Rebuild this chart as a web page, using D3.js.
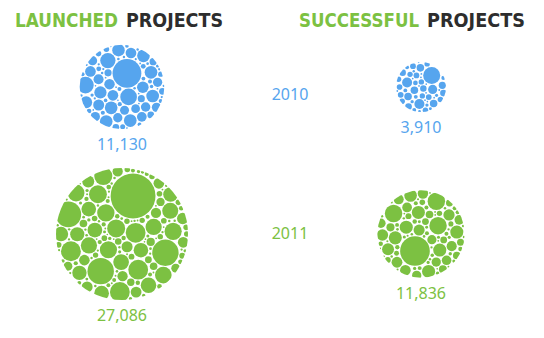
<!DOCTYPE html>
<html>
<head>
<meta charset="utf-8">
<script src="https://cdn.jsdelivr.net/npm/d3@7"></script>
<style>
  body { margin: 0; background: #fff; }
  svg { display: block; }
</style>
</head>
<body>
<div id="chart"></div>
<script>
// the numbers
var years = ["2010", "2011"];
var groups = ["launched", "successful"];
var launched = [11130, 27086];
var successful = [3910, 11836];
var yearColors = ["#56a5ee", "#7cc142"];

var width = 544, height = 338;

var svg = d3.select('#chart').append('svg')
    .attr('width', width)
    .attr('height', height);

var xScale = d3.scalePoint().domain(groups).range([122, 421]);
var yScale = d3.scalePoint().domain(years).range([87, 234]);
// year labels sit a little off the row centres
var yLabel = d3.scalePoint().domain(years).range([94, 233]);
var rScale = d3.scaleSqrt()
    .domain([0, d3.max(launched.concat(successful))])
    .range([0, 66]);

var cells = [];
years.forEach(function(y, i) {
  cells.push({group: "launched", year: y, value: launched[i], color: yearColors[i], seed: 11 + i * 977});
  cells.push({group: "successful", year: y, value: successful[i], color: yearColors[i], seed: 503 + i * 1531});
});

// fill a circle of radius R with smaller bubbles (greedy, deterministic quasi-random candidates)
function packBubbles(R, seed) {
  var a1 = 0.7548776662466927, a2 = 0.5698402909980532;
  var pts = [];
  var n = Math.round(Math.PI * R * R * 1.6);
  var k = seed;
  while (pts.length < n) {
    k++;
    var x = ((0.5 + a1 * k) % 1) * 2 - 1,
        y = ((0.5 + a2 * k) % 1) * 2 - 1;
    if (x * x + y * y <= 1) pts.push({x: x * R, y: y * R, d: Math.sqrt(x * x + y * y) * R, avail: Infinity});
  }
  // [cap, max count, overshoot past the rim, min share of cap]
  var caps = [[0.34 * R, 1, 0, 1], [0.2 * R, 3, 0.3, 0.85], [0.15 * R, Infinity, 0.4, 0.7],
              [0.11 * R, Infinity, 0.4, 0.7], [0.08 * R, Infinity, 0.4, 0.7]];
  [5, 3.8, 2.8, 2.1, 1.6, 1.2].forEach(function(c) {
    if (c < caps[caps.length - 1][0] * 0.9) caps.push([c, Infinity, 0.4, 0.7]);
  });
  var gap = 0.95;
  var out = [];
  caps.forEach(function(tier, t) {
    var cap = tier[0], maxCount = tier[1], count = 0;
    var minR = t === caps.length - 1 ? 0.8 : cap * tier[3];
    for (var i = 0; i < pts.length && count < maxCount; i++) {
      var p = pts[i];
      var r = Math.min(cap, p.avail - gap, (R - p.d) + tier[2] * cap);
      if (r < minR) continue;
      var c = {x: p.x, y: p.y, r: r};
      out.push(c);
      count++;
      pts.forEach(function(q) {
        var dd = Math.hypot(q.x - c.x, q.y - c.y) - c.r;
        if (dd < q.avail) q.avail = dd;
      });
    }
  });
  return out;
}

var defs = svg.append('defs');

var bubble = svg.selectAll('.bubble')
    .data(cells)
    .enter()
    .append('g')
    .attr('class', 'bubble')
    .attr('transform', d => `translate(${xScale(d.group)},${yScale(d.year)})`);

bubble.each(function(d, i) {
  var R = rScale(d.value);
  defs.append('clipPath')
      .attr('id', 'clip' + i)
      .append('circle')
      .attr('r', R);
  d3.select(this).append('g')
      .attr('clip-path', `url(#clip${i})`)
      .selectAll('circle')
      .data(packBubbles(R, d.seed))
      .enter()
      .append('circle')
      .attr('cx', c => c.x)
      .attr('cy', c => c.y)
      .attr('r', c => c.r)
      .attr('fill', d.color);
});

bubble.append('text')
    .attr('y', d => rScale(d.value) + 21)
    .attr('text-anchor', 'middle')
    .attr('font-family', '"Noto Sans", "Open Sans", sans-serif')
    .attr('font-size', 16)
    .attr('fill', d => d.color)
    .text(d => d3.format(',')(d.value));

// year labels between the columns
svg.selectAll('.year')
    .data(years)
    .enter()
    .append('text')
    .attr('class', 'year')
    .attr('x', 290)
    .attr('y', d => yLabel(d))
    .attr('dy', '0.35em')
    .attr('text-anchor', 'middle')
    .attr('font-family', '"Noto Sans", "Open Sans", sans-serif')
    .attr('font-size', 16)
    .attr('fill', (d, i) => yearColors[i])
    .text(d => d);

// headers, one text per word
var titles = [
  {word: "LAUNCHED", x: 15, len: 103, color: "#7cc142"},
  {word: "PROJECTS", x: 126, len: 97, color: "#2d2d2d"},
  {word: "SUCCESSFUL", x: 299, len: 120, color: "#7cc142"},
  {word: "PROJECTS", x: 427, len: 98, color: "#2d2d2d"}
];
svg.selectAll('.title')
    .data(titles)
    .enter()
    .append('text')
    .attr('class', 'title')
    .attr('x', d => d.x)
    .attr('y', 27)
    .attr('textLength', d => d.len)
    .attr('lengthAdjust', 'spacingAndGlyphs')
    .attr('font-family', '"DejaVu Sans", sans-serif')
    .attr('font-weight', 'bold')
    .attr('font-size', 19)
    .attr('fill', d => d.color)
    .text(d => d.word);
</script>
</body>
</html>
